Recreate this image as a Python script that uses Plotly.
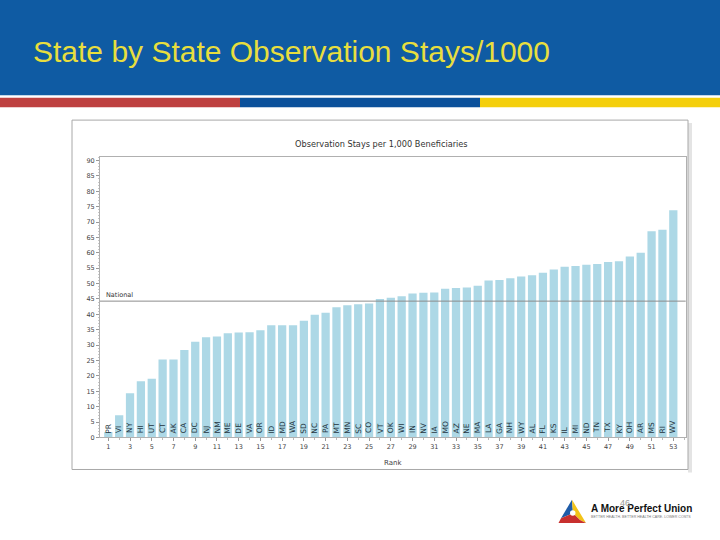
import plotly.graph_objects as go

# ---------------- data ----------------
states = ["PR", "VI", "NY", "HI", "UT", "CT", "AK", "CA", "DC", "NJ", "NM", "ME", "DE", "VA",
          "OR", "ID", "MD", "WA", "SD", "NC", "PA", "MT", "MN", "SC", "CO", "VT", "OK", "WI",
          "IN", "NV", "IA", "MO", "AZ", "NE", "MA", "LA", "GA", "NH", "WY", "AL", "FL", "KS",
          "IL", "MI", "ND", "TN", "TX", "KY", "OH", "AR", "MS", "RI", "WV"]
values = [1.8, 7.2, 14.4, 18.3, 19.1, 25.3, 25.3, 28.4, 31.1, 32.6, 32.8, 33.9, 34.1, 34.2,
          34.8, 36.5, 36.5, 36.5, 37.9, 39.9, 40.5, 42.3, 43.0, 43.3, 43.5, 45.0, 45.4, 45.9,
          46.8, 47.0, 47.1, 48.3, 48.6, 48.7, 49.3, 51.0, 51.2, 51.7, 52.3, 52.7, 53.5, 54.6,
          55.5, 55.7, 56.1, 56.4, 57.0, 57.3, 58.8, 60.0, 67.0, 67.5, 73.8]
ranks = list(range(1, len(states) + 1))
rank_ticks = ranks[::2]
national = 44.3
y_ticks = list(range(0, 95, 5))

slide_title = "State by State Observation Stays/1000"
chart_title = "Observation Stays per 1,000 Beneficiaries"
x_title = "Rank"
national_label = "National"
logo_text = "A More Perfect Union"
logo_sub = "BETTER HEALTH. BETTER HEALTH CARE. LOWER COSTS"
page_no = "46"

W, H = 720, 540


def py(y):
    return 1 - y / H


def px(x):
    return x / W


shapes = []
# header
shapes.append(dict(type="rect", xref="paper", yref="paper", x0=0, x1=1, y0=py(96), y1=py(0),
                   fillcolor="#0F5BA3", line=dict(width=0), layer="below"))
for x0, x1, c in [(0, 240, "#BE4140"), (240, 480, "#0B519B"), (480, 720, "#F4CF0C")]:
    shapes.append(dict(type="rect", xref="paper", yref="paper", x0=px(x0), x1=px(x1),
                       y0=py(108), y1=py(98.5), fillcolor=c, line=dict(width=0), layer="below"))
# chart image frame + shadow
shapes.append(dict(type="rect", xref="paper", yref="paper", x0=px(688), x1=px(692),
                   y0=py(476), y1=py(124), fillcolor="#E4E4E4", line=dict(width=0), layer="below"))
shapes.append(dict(type="rect", xref="paper", yref="paper", x0=px(72), x1=px(688),
                   y0=py(473), y1=py(121), fillcolor="white", line=dict(color="#A8A8A8", width=1),
                   layer="below"))


# logo triangle
def tri(pts, color):
    path = "M " + " L ".join(f"{px(a)},{py(b)}" for a, b in pts) + " Z"
    return dict(type="path", xref="paper", yref="paper", path=path, fillcolor=color,
                line=dict(width=0))


A, BL, BR, C = (572, 503.5), (558.5, 527), (586, 527), (573, 517)
shapes.append(tri([A, (561, 522), C], "#1F5CA8"))
shapes.append(tri([A, BR, (580, 524), C], "#F2C318"))
shapes.append(tri([(561, 522), BL, BR, (580, 524), C], "#C8302E"))
shapes.append(dict(type="circle", xref="paper", yref="paper", x0=px(570), x1=px(575.5),
                   y0=py(519.5), y1=py(514), fillcolor="white", line=dict(width=0)))

annotations = []
for r, s in zip(ranks, states):
    annotations.append(dict(x=r, y=0, xref="x", yref="y", text=s, textangle=-90,
                            showarrow=False, yanchor="bottom", xanchor="center", yshift=2,
                            font=dict(family="DejaVu Sans", size=7.5, color="#24343E")))
annotations.append(dict(x=px(104), y=national, xref="paper", yref="y", text=national_label,
                        showarrow=False, xanchor="left", yanchor="bottom", yshift=0,
                        font=dict(family="DejaVu Sans", size=6.5, color="#333")))
annotations.append(dict(x=px(381), y=py(145.5), xref="paper", yref="paper", text=chart_title,
                        showarrow=False, xanchor="center", yanchor="middle",
                        font=dict(family="DejaVu Sans", size=8.2, color="#333")))
annotations.append(dict(x=px(393), y=py(466.5), xref="paper", yref="paper", text=x_title,
                        showarrow=False, xanchor="center", yanchor="middle",
                        font=dict(family="DejaVu Sans", size=7, color="#444")))
annotations.append(dict(x=px(31), y=py(52), xref="paper", yref="paper", text=slide_title,
                        showarrow=False, xanchor="left", yanchor="middle",
                        font=dict(family="Liberation Sans", size=30, color="#E8DE3E")))
annotations.append(dict(x=px(588.5), y=py(512), xref="paper", yref="paper",
                        text="<b>" + logo_text + "</b>", showarrow=False, xanchor="left",
                        yanchor="middle", font=dict(family="Liberation Sans", size=10, color="#111")))
annotations.append(dict(x=px(589), y=py(521.3), xref="paper", yref="paper", text=logo_sub,
                        showarrow=False, xanchor="left", yanchor="middle",
                        font=dict(family="Liberation Sans", size=3.6, color="#777")))
annotations.append(dict(x=px(625), y=py(507), xref="paper", yref="paper", text=page_no,
                        showarrow=False, xanchor="center", yanchor="middle",
                        font=dict(family="Liberation Sans", size=9, color="#999")))

layout = go.Layout(
    width=W, height=H, margin=dict(l=0, r=0, t=0, b=0),
    paper_bgcolor="white", plot_bgcolor="white", showlegend=False,
    bargap=0.25, shapes=shapes, annotations=annotations,
    xaxis=dict(domain=[px(100), px(685.7)], range=[0.236, 54.14], tickmode="array",
               tickvals=rank_ticks, ticktext=[str(v) for v in rank_ticks],
               ticks="outside", ticklen=3, tickcolor="#999", showline=True, linecolor="#B0B0B0",
               mirror=True, showgrid=False, zeroline=False,
               tickfont=dict(family="DejaVu Sans", size=6.5, color="#444"),
               minor=dict(tick0=1, dtick=1, ticks="outside", ticklen=2, tickcolor="#BBB")),
    yaxis=dict(domain=[py(440.7), py(158.3)], range=[0, 91.1], tickmode="array",
               tickvals=y_ticks, ticks="outside", ticklen=3, tickcolor="#999",
               showline=True, linecolor="#B0B0B0", mirror=True, showgrid=False, zeroline=False,
               tickfont=dict(family="DejaVu Sans", size=6.5, color="#444"),
               minor=dict(tick0=0, dtick=1, ticks="outside", ticklen=1.5, tickcolor="#C8C8C8")),
)

fig = go.Figure(layout=layout)
fig.add_trace(go.Bar(x=ranks, y=values, marker=dict(color="#ADD8E6", line=dict(width=0)),
                     width=0.76, hoverinfo="x+y"))
fig.add_hline(y=national, line=dict(color="#8C8C8C", width=1))

fig.write_html("out.html", config={"displayModeBar": False},
               post_script="document.body.style.margin='0';")
